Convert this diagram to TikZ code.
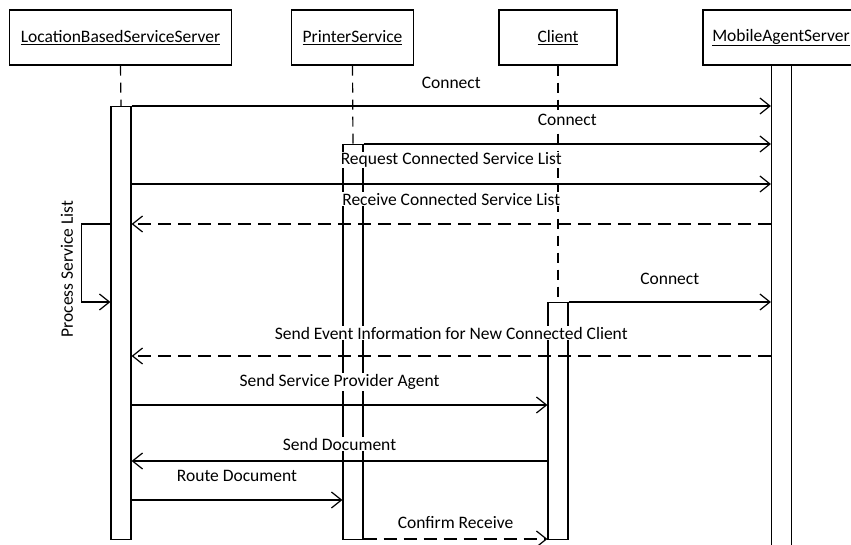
\documentclass[tikz,border=0pt]{standalone}
\usepackage{fontspec}
\setmainfont{Carlito}
\usepackage{tikz}
\usetikzlibrary{arrows.meta, positioning, calc}

\begin{document}
\begin{tikzpicture}[x=1pt, y=-1pt, line width=1.2pt,
    actor/.style={draw, minimum height=55pt, inner sep=0pt, font=\fontsize{17.5}{20}\selectfont},
    bar/.style={draw, minimum width=20pt, inner sep=0pt, anchor=north},
    life/.style={dash pattern=on 10pt off 7pt},
    msg/.style={-{Straight Barb[length=10pt, width=16pt]}},
    reply/.style={msg, dash pattern=on 13pt off 7pt},
    lbl/.style={fill=white, inner sep=1pt, font=\fontsize{17.5}{20}\selectfont}]
    \clip (0,0) rectangle (851,545);

    % 对象框
    \node[actor, minimum width=222pt] (lbss) at (120.5, 37.5) {\underline{LocationBasedServiceServer}};
    \node[actor, minimum width=122pt] (prt) at (352.5, 37.5) {\underline{PrinterService}};
    \node[actor, minimum width=118pt] (cli) at (558, 37.5) {\underline{Client}};
    \node[actor, minimum width=156pt] (mas) at (781, 37.5) {\underline{MobileAgentServer}};

    % 激活条
    \node[bar, minimum height=433pt] (lbssbar) at (121, 106) {};
    \node[bar, minimum height=395pt] (prtbar) at (353, 144) {};
    \node[bar, minimum height=237pt] (clibar) at (558, 302) {};
    \node[bar, minimum height=500pt] (masbar) at (781.5, 65) {};

    % 生命线
    \draw[life] (lbss.south) -- (lbssbar.north);
    \draw[life] (prt.south) -- (prtbar.north);
    \draw[life] (cli.south) -- (clibar.north);

    % 消息
    \foreach \y/\from/\to/\kind/\txt/\up in {
        106/lbssbar.east/masbar.west/msg/Connect/23,
        144/prtbar.east/masbar.west/msg/Connect/24,
        184/lbssbar.east/masbar.west/msg/Request Connected Service List/24,
        224/masbar.west/lbssbar.east/reply/Receive Connected Service List/25,
        302/clibar.east/masbar.west/msg/Connect/23,
        356/masbar.west/lbssbar.east/reply/Send Event Information for New Connected Client/23,
        405/lbssbar.east/clibar.west/msg/Send Service Provider Agent/23,
        461/clibar.west/lbssbar.east/msg/Send Document/17,
        500/lbssbar.east/prtbar.west/msg/Route Document/24,
        539/prtbar.east/clibar.west/reply/Confirm Receive/16} {
        \draw[\kind] (\from |- 0,\y) -- (\to |- 0,\y)
            node[lbl, midway, yshift=\up pt] {\txt};
    }

    % 自调用
    \draw[msg] (lbssbar.west |- 0,224) -- ++(-29,0) |- (lbssbar.west |- 0,302);
    \node[lbl, rotate=90] (proc) at (67, 269) {Process Service List};
\end{tikzpicture}
\end{document}
